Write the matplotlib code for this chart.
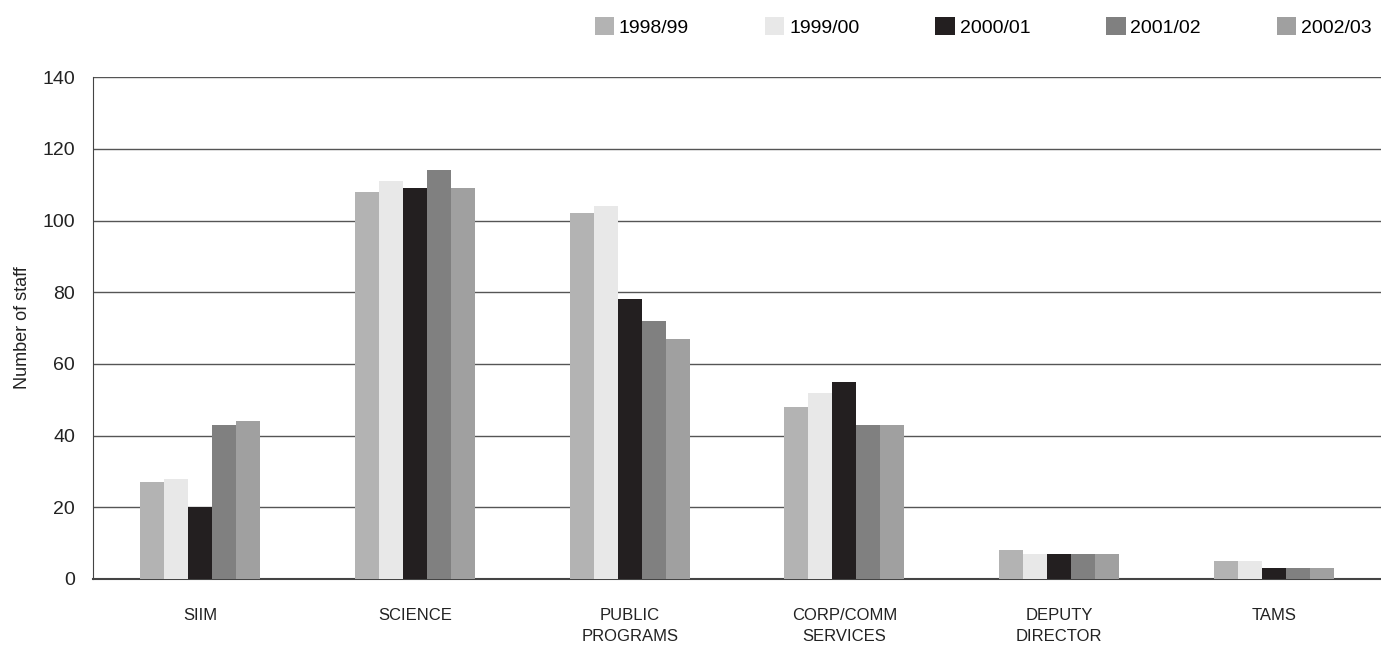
import matplotlib
matplotlib.use("Agg")
import matplotlib.pyplot as plt
import numpy as np

categories = ["SIIM", "SCIENCE", "PUBLIC\nPROGRAMS", "CORP/COMM\nSERVICES", "DEPUTY\nDIRECTOR", "TAMS"]
years = ["1998/99", "1999/00", "2000/01", "2001/02", "2002/03"]
staff_9899 = [27, 108, 102, 48, 8, 5]
staff_9900 = [28, 111, 104, 52, 7, 5]
staff_0001 = [20, 109, 78, 55, 7, 3]
staff_0102 = [43, 114, 72, 43, 7, 3]
staff_0203 = [44, 109, 67, 43, 7, 3]
series = [staff_9899, staff_9900, staff_0001, staff_0102, staff_0203]
colours = ["#b3b3b3", "#e8e8e8", "#231f20", "#808080", "#a0a0a0"]

plt.rcParams['font.family'] = ['Liberation Sans', 'DejaVu Sans']

fig = plt.figure(figsize=(13.81, 6.48), dpi=100)
ax = fig.add_axes([0.0673, 0.1065, 0.9327, 0.7745])

x = np.arange(len(categories))
width = 0.112
for i, (vals, col, yr) in enumerate(zip(series, colours, years)):
    ax.bar(x + (i - 2) * width, vals, width, color=col, label=yr, zorder=3)

ax.set_xlim(-0.5, len(categories) - 0.5)
ax.set_ylim(0, 140)
ax.set_yticks(range(0, 141, 20))
ax.yaxis.grid(True, color="#555555", linewidth=1.0, zorder=0)
for s in ["top", "right"]:
    ax.spines[s].set_visible(False)
ax.spines["left"].set_color("#444444")
ax.spines["bottom"].set_color("#444444")
ax.spines["bottom"].set_linewidth(1.5)
ax.tick_params(axis="both", length=0)
ax.tick_params(axis="y", labelsize=14, pad=13, colors="#222222")
ax.set_xticks(x)
ax.set_xticklabels(categories, fontsize=12, color="#222222", linespacing=1.45)
ax.tick_params(axis="x", pad=21)
ax.set_ylabel("Number of staff", fontsize=13, color="#222222", labelpad=8)

ax.legend(loc="center left", bbox_to_anchor=(0.3835, 1.1), ncol=5, frameon=False,
          fontsize=14, handlelength=1.0, handleheight=1.0, handletextpad=0.25,
          columnspacing=3.9, borderaxespad=0)

fig.savefig("out.png", dpi=100)
